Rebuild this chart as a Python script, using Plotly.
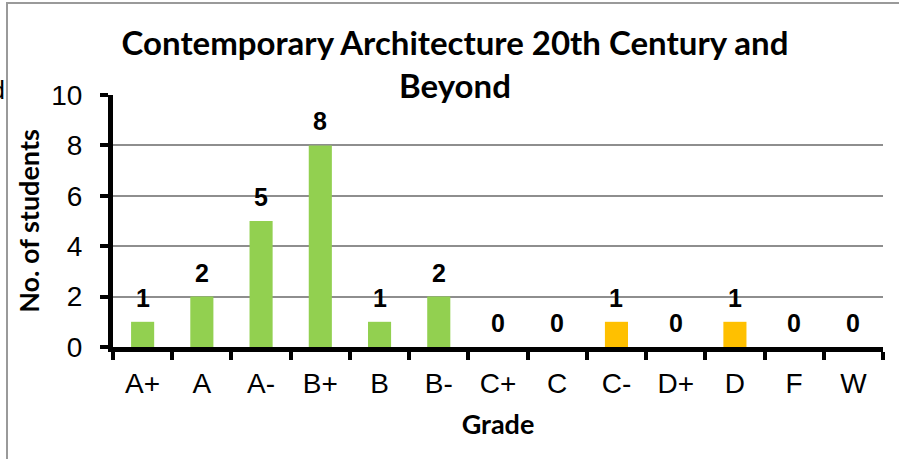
import plotly.graph_objects as go

# ---- data ----
grades = ["A+", "A", "A-", "B+", "B", "B-", "C+", "C", "C-", "D+", "D", "F", "W"]
students = [1, 2, 5, 8, 1, 2, 0, 0, 1, 0, 1, 0, 0]
y_ticks = [0, 2, 4, 6, 8, 10]
title_text = "Contemporary Architecture 20th Century and<br>Beyond"
x_title = "Grade"
y_title = "No. of students"

GREEN = "#92D050"
ORANGE = "#FFC000"
first_low = grades.index("C-")
colors = [GREEN if i < first_low else ORANGE for i in range(len(grades))]

W, H = 899, 459
L, R, T, B = 113, 16, 95, 112
pw, ph = W - L - R, H - T - B


def px_x(p):
    return (p - L) / pw


def px_y(p):
    return (H - B - p) / ph


fig = go.Figure()
fig.add_trace(go.Bar(
    x=grades, y=students, marker=dict(color=colors, line=dict(width=0)),
    width=0.39, hoverinfo="x+y",
))

for g, v in zip(grades, students):
    fig.add_annotation(
        x=g, y=v, xref="x", yref="y", text=f"<b>{v}</b>", showarrow=False,
        yanchor="bottom", yshift=8,
        font=dict(family="Liberation Sans, Arial", size=25, color="black"),
    )

# cut-off fragment of neighbouring text at the left edge
fig.add_annotation(
    x=px_x(7), y=px_y(90), xref="paper", yref="paper", text="d",
    showarrow=False, xanchor="right", yanchor="middle",
    font=dict(family="Liberation Sans, Arial", size=25, color="black"),
)

# chart border
fig.add_shape(
    type="rect", xref="paper", yref="paper",
    x0=px_x(7), x1=px_x(910), y0=px_y(470), y1=px_y(3),
    line=dict(color="#9a9a9a", width=2), fillcolor="rgba(0,0,0,0)", layer="below",
)

fig.update_layout(
    width=W, height=H,
    margin=dict(l=L, r=R, t=T, b=B, autoexpand=False),
    paper_bgcolor="white", plot_bgcolor="white",
    showlegend=False, bargap=0.61,
    title=dict(
        text=f"<b>{title_text}</b>", xref="paper", x=px_x(455), xanchor="center",
        yref="container", y=1 - 55 / H, yanchor="top",
        font=dict(family="Lato, Open Sans", size=33, color="black"),
    ),
)

fig.update_xaxes(
    range=[-0.5, len(grades) - 0.5], automargin=False,
    showline=True, linecolor="black", linewidth=5,
    ticks="outside", tickson="boundaries", ticklen=8, tickwidth=4, tickcolor="black",
    showgrid=False, zeroline=False,
    tickfont=dict(family="Liberation Sans, Arial", size=28, color="black"),
    ticklabelstandoff=7,
    title=dict(text=f"<b>{x_title}</b>", standoff=19,
               font=dict(family="Lato, Open Sans", size=27, color="black")),
)
fig.update_yaxes(
    range=[0, 10], tickvals=y_ticks, automargin=False,
    showline=True, linecolor="black", linewidth=5,
    ticks="outside", ticklen=8, tickwidth=4, tickcolor="black",
    showgrid=True, gridcolor="#8e8e8e", gridwidth=1.5, zeroline=False,
    tickfont=dict(family="Liberation Sans, Arial", size=28, color="black"),
    ticklabelstandoff=12,
    title=dict(text=f"<b>{y_title}</b>", standoff=5,
               font=dict(family="Lato, Open Sans", size=27, color="black")),
)

# remove the browser's default 8px page margin so the figure sits at the window origin
fig.write_html(
    "out.html",
    config={"displayModeBar": False},
    post_script="document.body.style.margin='0';",
)
